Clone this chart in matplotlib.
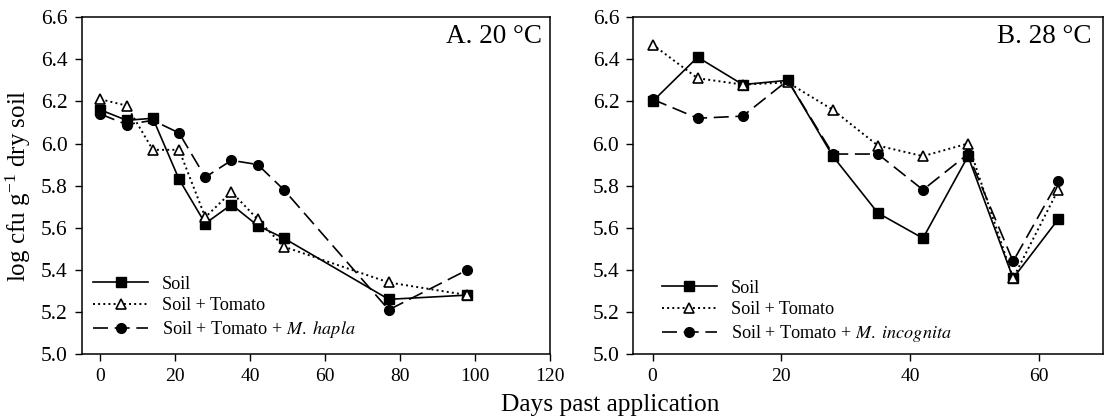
import matplotlib
matplotlib.use("Agg")
import matplotlib.pyplot as plt

plt.rcParams['font.family'] = ['Liberation Serif', 'DejaVu Serif']
plt.rcParams['mathtext.fontset'] = 'stix'

# Panel A, 20 C
days_a = [0, 7, 14, 21, 28, 35, 42, 49, 77, 98]
soil_a = [6.16, 6.11, 6.12, 5.83, 5.62, 5.71, 5.61, 5.55, 5.26, 5.28]
tomato_a = [6.21, 6.18, 5.97, 5.97, 5.65, 5.77, 5.64, 5.51, 5.34, 5.28]
hapla_a = [6.14, 6.09, 6.11, 6.05, 5.84, 5.92, 5.90, 5.78, 5.21, 5.40]

# Panel B, 28 C
days_b = [0, 7, 14, 21, 28, 35, 42, 49, 56, 63]
soil_b = [6.20, 6.41, 6.28, 6.30, 5.94, 5.67, 5.55, 5.94, 5.36, 5.64]
tomato_b = [6.47, 6.31, 6.28, 6.29, 6.16, 5.99, 5.94, 6.00, 5.36, 5.78]
incog_b = [6.21, 6.12, 6.13, 6.30, 5.95, 5.95, 5.78, 5.95, 5.44, 5.82]

yticks = [5.0, 5.2, 5.4, 5.6, 5.8, 6.0, 6.2, 6.4, 6.6]


def draw_panel(ax, days, s1, s2, s3, label3, title, title_x, xlim, xticks, leg_anchor):
    ax.plot(days, s1, '-', color='black', lw=1.2, marker='s', ms=7,
            mfc='black', mec='black', label='Soil')
    ax.plot(days, s2, ':', color='black', lw=1.4, marker='^', ms=7,
            mfc='white', mec='black', mew=1.2, label='Soil + Tomato')
    ax.plot(days, s3, color='black', lw=1.2, dashes=(9, 4), marker='o', ms=7,
            mfc='black', mec='black', label=label3)
    ax.set_xlim(*xlim)
    ax.set_ylim(5.0, 6.6)
    ax.set_xticks(xticks)
    ax.set_yticks(yticks)
    ax.set_yticklabels([f'{v:.1f}' for v in yticks])
    ax.tick_params(direction='out', length=5, width=1, pad=5)
    ax.tick_params(axis='x', labelsize=14)
    ax.tick_params(axis='y', labelsize=15.5)
    for sp in ax.spines.values():
        sp.set_linewidth(1.1)
    ax.text(title_x, 0.942, title, transform=ax.transAxes, ha='right', va='center',
            fontsize=19.5)
    ax.legend(loc='lower left', frameon=False, fontsize=13.1, handlelength=3.05,
              handletextpad=0.75, labelspacing=0.26, borderaxespad=0.0,
              bbox_to_anchor=leg_anchor)


fig = plt.figure(figsize=(11.04, 4.19), dpi=100)
ax1 = fig.add_axes([0.074, 0.155, 0.424, 0.804])
ax2 = fig.add_axes([0.5736, 0.155, 0.4257, 0.804])

draw_panel(ax1, days_a, soil_a, tomato_a, hapla_a,
           'Soil + Tomato + $\\it{M.\\ hapla}$', 'A. 20 °C', 0.984,
           (-5, 120), [0, 20, 40, 60, 80, 100, 120], (0.0085, 0.02))
draw_panel(ax2, days_b, soil_b, tomato_b, incog_b,
           'Soil + Tomato + $\\it{M.\\ incognita}$', 'B. 28 °C', 0.975,
           (-3, 70), [0, 20, 40, 60], (0.045, 0.008))

ax1.set_ylabel('log cfu g$^{\\mathregular{-1}}$ dry soil', fontsize=18, labelpad=6)
fig.text(0.553, 0.033, 'Days past application', ha='center', va='center',
         fontsize=18.3)

fig.savefig('out.png', dpi=100)
